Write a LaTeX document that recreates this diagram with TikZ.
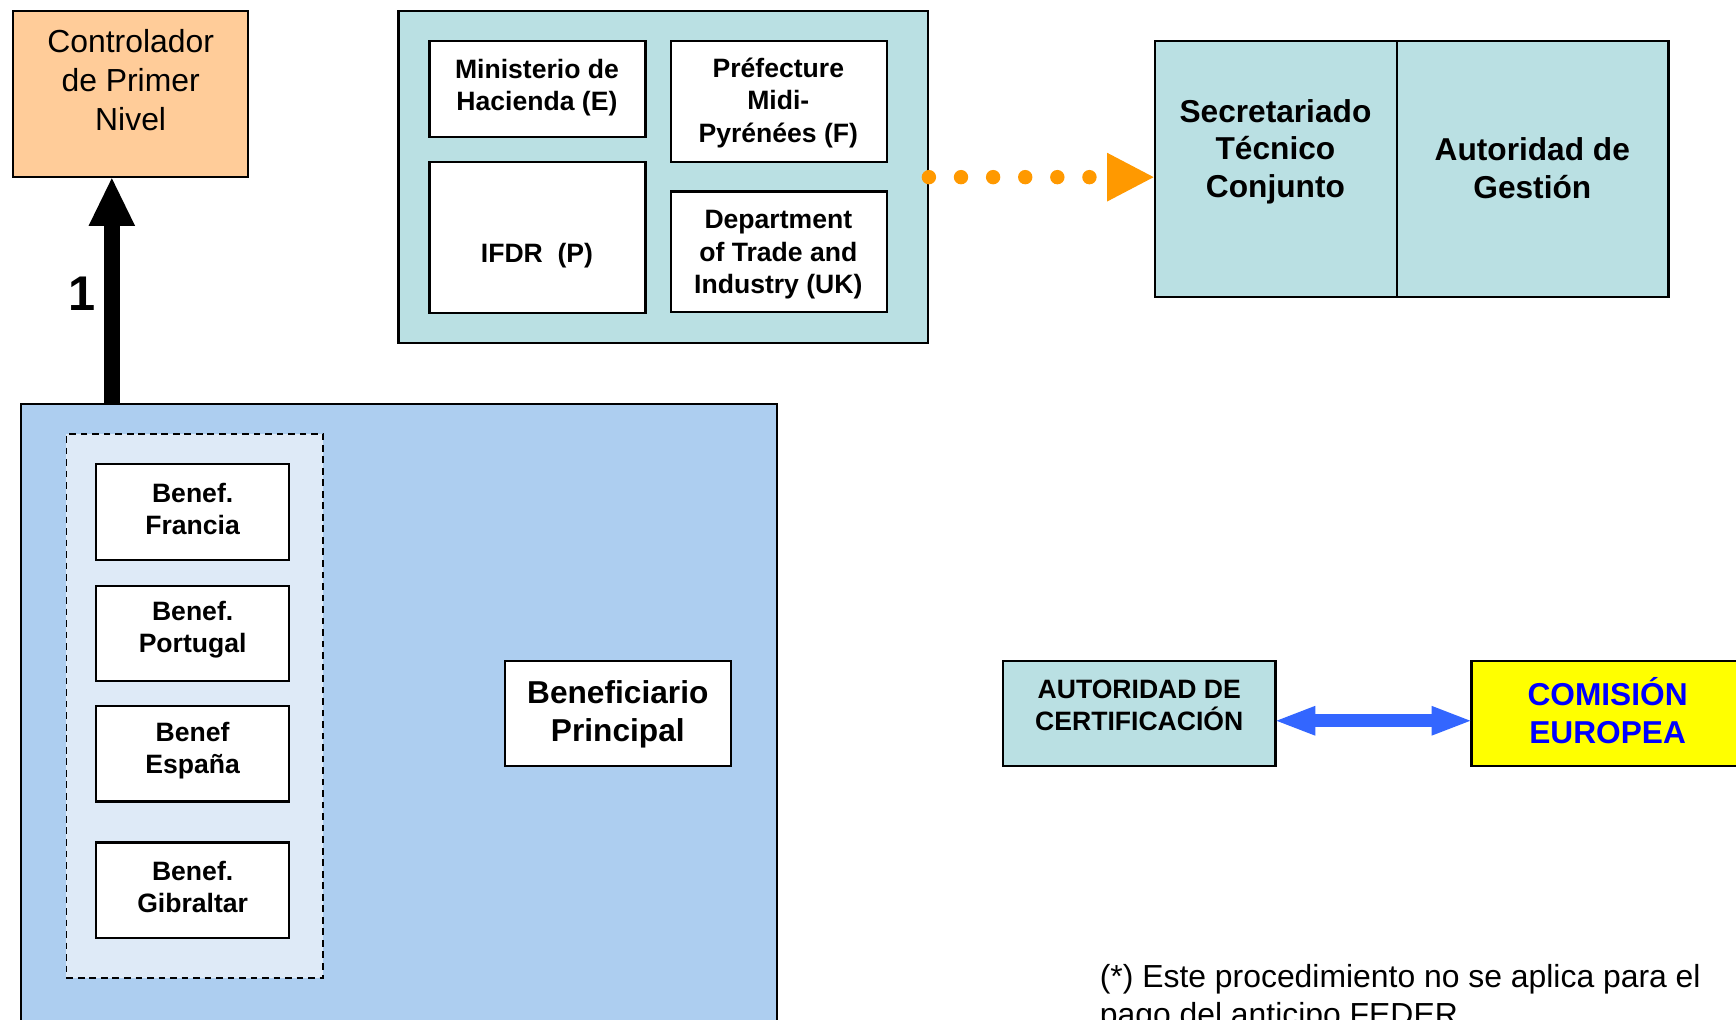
\documentclass[tikz,border=0pt]{standalone}
\usepackage{fontspec}
\setmainfont{Liberation Sans}
\usetikzlibrary{arrows.meta}
\definecolor{cOrangeBox}{HTML}{FFCC99}
\definecolor{cTeal}{HTML}{BAE0E3}
\definecolor{cBig}{HTML}{ADCEF0}
\definecolor{cDash}{HTML}{DEEAF7}
\definecolor{cDot}{HTML}{FF9900}
\definecolor{cArrow}{HTML}{3366FF}
\definecolor{cYellow}{HTML}{FFFF00}
\definecolor{cText}{HTML}{0000FF}
\newcommand{\fntReg}{\fontsize{14.4}{17.5}\selectfont}
\newcommand{\fntSmall}{\fontsize{12}{14.5}\selectfont\bfseries}
\newcommand{\fntBig}{\fontsize{14.3}{17}\selectfont\bfseries}
\newcommand{\mkbox}[6]{\node[#6, minimum width={(#4-#2)*0.5pt}, minimum height={(#5-#3)*0.5pt}] (#1) at ({(#2+#4)/2},{(#3+#5)/2}) {};}
\begin{document}
\begin{tikzpicture}[x=0.5pt,y=-0.5pt,
  boxst/.style={draw=black, line width=1pt, rectangle, inner sep=0pt},
  whitebox/.style={boxst, fill=white},
  tealbox/.style={boxst, fill=cTeal},
  txtsmall/.style={align=center, inner sep=0pt, font=\fntSmall},
  txtbig/.style={align=center, inner sep=0pt, font=\fntBig},
  txtreg/.style={align=center, inner sep=0pt, font=\fntReg}]
\clip (0,0) rectangle (1568,921);
\fill[white] (0,0) rectangle (1568,921);

% Controlador
\mkbox{ctrl}{12}{10}{224}{160}{boxst, fill=cOrangeBox}
\node[txtreg] (ctrlt) at (118,72.5) {Controlador\\de Primer\\Nivel};

% top group
\mkbox{grp}{360}{10}{838}{310}{tealbox}
\mkbox{min}{388}{37}{583}{124}{whitebox}
\node[txtsmall] (mint) at (485,79.5) {Ministerio de\\Hacienda (E)};
\mkbox{pref}{606}{37}{801}{146}{whitebox}
\node[txtsmall] (preft) at (703,93) {Préfecture\\Midi-\\Pyrénées (F)};
\mkbox{ifdr}{388}{146}{583}{283}{whitebox}
\node[txtsmall] (ifdrt) at (485,231) {IFDR\ \ (P)};
\mkbox{dti}{606}{173}{801}{282}{whitebox}
\node[txtsmall] (dtit) at (703,230) {Department\\of Trade and\\Industry (UK)};

% Secretariado / Autoridad
\mkbox{stc}{1043}{37}{1262}{268}{tealbox}
\mkbox{ag}{1262}{37}{1507}{268}{tealbox}
\node[txtbig] (stct) at (1152,137) {Secretariado\\Técnico\\Conjunto};
\node[txtbig] (agt) at (1384,152) {Autoridad de\\Gestión};

% dotted arrow
\draw[cDot, line width=6.5pt, line cap=round, dash pattern=on 0pt off 14.5pt,
  -{Triangle[width=22pt,length=21pt,line width=0pt]}] (grp.east) -- (grp.east -| stc.west);

% big blue box
\mkbox{big}{19}{365}{702}{945}{boxst, fill=cBig}
\mkbox{dash}{60}{392}{292}{883}{draw=black, line width=0.8pt, dash pattern=on 3pt off 2.2pt, fill=cDash, inner sep=0pt}
\mkbox{bfr}{87}{419}{261}{506}{whitebox}
\node[txtsmall] (bfrt) at (174,459.5) {Benef.\\Francia};
\mkbox{bpt}{87}{529}{261}{615}{whitebox}
\node[txtsmall] (bptt) at (174,569) {Benef.\\Portugal};
\mkbox{bes}{87}{638}{261}{724}{whitebox}
\node[txtsmall] (best) at (174,678) {Benef\\España};
\mkbox{bgi}{87}{761}{261}{847}{whitebox}
\node[txtsmall] (bgit) at (174,801) {Benef.\\Gibraltar};
\mkbox{bp}{456}{597}{660}{692}{whitebox}
\node[txtbig] (bpt2) at (558,645) {Beneficiario\\Principal};

% arrow 1
\coordinate (aS) at (101,365);
\draw[line width=7pt, -{Triangle[width=21pt,length=21.5pt,line width=0pt]}] (aS) -- (aS |- ctrl.south);
\node[font=\fontsize{22}{24}\selectfont\bfseries, inner sep=0pt] (one) at (74,265) {1};

% certification / commission
\mkbox{acert}{906}{597}{1152}{692}{tealbox}
\node[txtsmall] (acertt) at (1029,637) {AUTORIDAD DE\\CERTIFICACIÓN};
\mkbox{com}{1329}{597}{1600}{692}{boxst, fill=cYellow}
\node[txtbig, text=cText] (comt) at (1452,642) {COMISIÓN\\EUROPEA};
\draw[cArrow, line width=6pt,
  {Triangle[width=13.5pt,length=17.5pt,line width=0pt]}-{Triangle[width=13.5pt,length=17.5pt,line width=0pt]}]
  ([yshift=-3.25pt]acert.east) -- ([yshift=-3.25pt]acert.east -| com.west);

% footnote (cut by the lower edge, as in the reference)
\node[anchor=north west, align=left, inner sep=0pt, font=\fontsize{14.4}{17}\selectfont] (foot) at (993,871)
  {(*) Este procedimiento no se aplica para el\\pago del anticipo FEDER};
\end{tikzpicture}
\end{document}
